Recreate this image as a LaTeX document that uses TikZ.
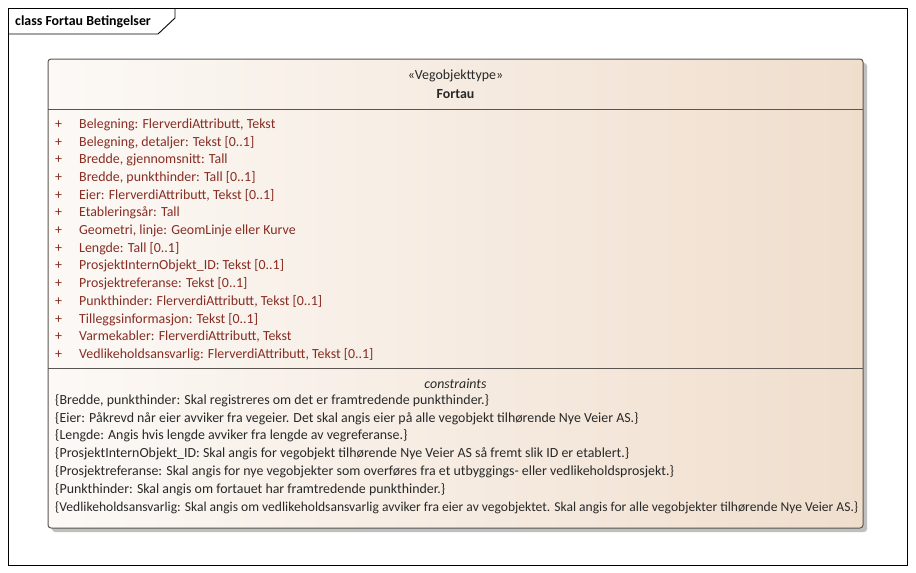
\documentclass[tikz,border=0pt]{standalone}
\usepackage{fontspec}
\setmainfont{Carlito}
\usetikzlibrary{shadows}
\definecolor{attrc}{RGB}{135,45,35}
\definecolor{txtc}{RGB}{40,40,40}
\definecolor{fillL}{RGB}{252,249,246}
\definecolor{fillR}{RGB}{240,222,205}
\definecolor{edgec}{RGB}{90,85,80}
\newcommand{\fsz}{\fontsize{13.9}{16}\selectfont}
\tikzset{
  attr/.style={anchor=west, inner sep=0pt, text=attrc, font=\fsz},
  cons/.style={anchor=west, inner sep=0pt, text=txtc, font=\fsz},
  frameline/.style={draw=black, line width=0.9pt},
}
\begin{document}
\begin{tikzpicture}[x=1pt,y=-1pt]
\useasboundingbox (0,0) rectangle (916,573);
\fill[white] (0,0) rectangle (916,573);
% outer frame
\draw[frameline] (8,8) rectangle (907,565);
\draw[frameline] (8,34) -- (158,34) -- (175,18) -- (175,8);
\node[anchor=west, inner sep=0pt, font=\bfseries\fsz] (title) at (15,22) {class Fortau Betingelser};
% shadow
\fill[black!25, rounded corners=3pt] (52,63) rectangle (867,532);
% class box
\shade[left color=fillL, right color=fillR, rounded corners=3pt] (48,59) rectangle (863,528);
\draw[edgec, line width=1pt, rounded corners=3pt] (48,59) rectangle (863,528);
\draw[edgec, line width=1pt] (48,109) -- (863,109);
\draw[edgec, line width=1pt] (48,368) -- (863,368);
\node[inner sep=0pt, text=txtc, font=\fsz] (stereo) at (455.5,76) {«Vegobjekttype»};
\node[inner sep=0pt, text=txtc, font=\bfseries\fsz] (cname) at (455.5,94) {Fortau};
% attributes
\foreach \t [count=\i from 0] in {
  {Belegning: FlerverdiAttributt, Tekst},
  {Belegning, detaljer: Tekst [0..1]},
  {Bredde, gjennomsnitt: Tall},
  {Bredde, punkthinder: Tall [0..1]},
  {Eier: FlerverdiAttributt, Tekst [0..1]},
  {Etableringsår: Tall},
  {Geometri, linje: GeomLinje eller Kurve},
  {Lengde: Tall [0..1]},
  {ProsjektInternObjekt\_ID: Tekst [0..1]},
  {Prosjektreferanse: Tekst [0..1]},
  {Punkthinder: FlerverdiAttributt, Tekst [0..1]},
  {Tilleggsinformasjon: Tekst [0..1]},
  {Varmekabler: FlerverdiAttributt, Tekst},
  {Vedlikeholdsansvarlig: FlerverdiAttributt, Tekst [0..1]}}
{
  \node[attr] (p\i) at (55,{124.5+17.7*\i}) {+};
  \node[attr] (a\i) at (79,{124.5+17.7*\i}) {\t};
}
% constraints
\node[inner sep=0pt, text=txtc, font=\itshape\fsz] (ctitle) at (455.5,383.5) {constraints};
\foreach \t [count=\i from 0] in {
  {\{Bredde, punkthinder: Skal registreres om det er framtredende punkthinder.\}},
  {\{Eier: Påkrevd når eier avviker fra vegeier. Det skal angis eier på alle vegobjekt tilhørende Nye Veier AS.\}},
  {\{Lengde: Angis hvis lengde avviker fra lengde av vegreferanse.\}},
  {\{ProsjektInternObjekt\_ID: Skal angis for vegobjekt tilhørende Nye Veier AS så fremt slik ID er etablert.\}},
  {\{Prosjektreferanse: Skal angis for nye vegobjekter som overføres fra et utbyggings- eller vedlikeholdsprosjekt.\}},
  {\{Punkthinder: Skal angis om fortauet har framtredende punkthinder.\}}}
{
  \node[cons] (c\i) at (55,{400.5+17.8*\i}) {\t};
}
\node[cons] (c6) at (55,{400.5+17.8*6}) {\resizebox{803pt}{!}{\{Vedlikeholdsansvarlig: Skal angis om vedlikeholdsansvarlig avviker fra eier av vegobjektet. Skal angis for alle vegobjekter tilhørende Nye Veier AS.\}}};
\end{tikzpicture}
\end{document}
